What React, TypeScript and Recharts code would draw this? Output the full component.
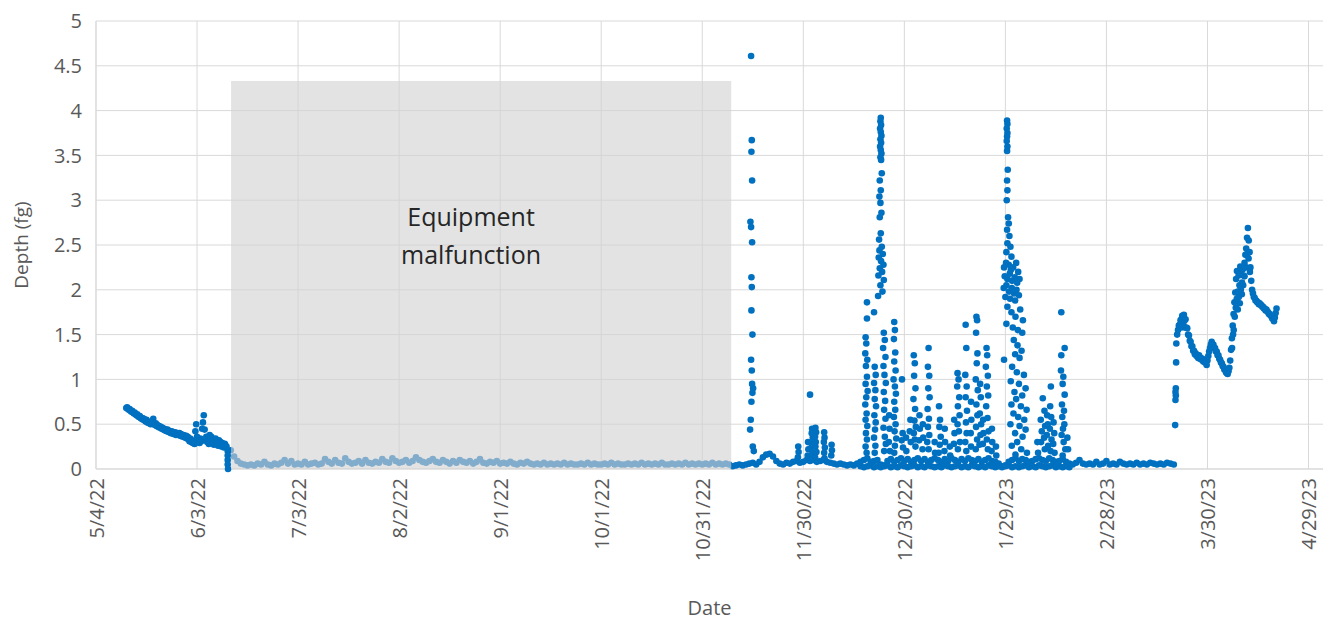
import {
  ScatterChart,
  Scatter,
  XAxis,
  YAxis,
  CartesianGrid,
  ReferenceArea,
} from 'recharts';

const FONT = '"Open Sans", Arial, sans-serif';
const BLUE = '#0070c0';

// x axis is days since 5/4/22
const xTicks = [0, 30, 60, 90, 120, 150, 180, 210, 240, 270, 300, 330, 360];
const xTickLabels = [
  '5/4/22', '6/3/22', '7/3/22', '8/2/22', '9/1/22', '10/1/22', '10/31/22',
  '11/30/22', '12/30/22', '1/29/23', '2/28/23', '3/30/23', '4/29/23',
];
const yTicks = [0, 0.5, 1, 1.5, 2, 2.5, 3, 3.5, 4, 4.5, 5];

// malfunction window (days) and box height
const outageStart = 40.1;
const outageEnd = 188.6;
const outageTop = 4.33;

// May - June 2022, every 6 h starting day 9
const springStart = 9;
const springValues = [
  0.68, 0.69, 0.67, 0.66, 0.67, 0.65, 0.64, 0.65, 0.63, 0.62,
  0.63, 0.61, 0.6, 0.61, 0.59, 0.58, 0.59, 0.57, 0.56, 0.57,
  0.55, 0.56, 0.54, 0.53, 0.55, 0.52, 0.53, 0.51, 0.52, 0.5,
  0.52, 0.51, 0.56, 0.5, 0.49, 0.51, 0.48, 0.49, 0.47, 0.48,
  0.46, 0.47, 0.45, 0.46, 0.44, 0.45, 0.43, 0.44, 0.42, 0.44,
  0.43, 0.41, 0.42, 0.4, 0.42, 0.41, 0.39, 0.4, 0.41, 0.38,
  0.4, 0.39, 0.38, 0.4, 0.37, 0.39, 0.38, 0.36, 0.38, 0.37,
  0.35, 0.37, 0.34, 0.36, 0.33, 0.31, 0.34, 0.3, 0.32, 0.29,
  0.31, 0.28, 0.42, 0.5, 0.36, 0.3, 0.33, 0.29, 0.34, 0.31,
  0.45, 0.52, 0.6, 0.44, 0.33, 0.36, 0.3, 0.34, 0.28, 0.38,
  0.32, 0.36, 0.29, 0.33, 0.27, 0.31, 0.34, 0.28, 0.3, 0.26,
  0.32, 0.28, 0.3, 0.25, 0.29, 0.27, 0.24, 0.28, 0.26, 0.25,
];

// drop at the start of the outage
const dropPoints = [
  [39.1, 0.2], [39.1, 0.15], [39.1, 0.1], [39.1, 0.05], [39.2, 0.0],
];

// daily values during the malfunction, day 40 onward
const outageFirstDay = 40;
const outageValues = [
  0.21, 0.14, 0.09, 0.06, 0.05, 0.04, 0.05, 0.04, 0.06, 0.05,
  0.08, 0.05, 0.04, 0.06, 0.05, 0.07, 0.1, 0.06, 0.09, 0.05,
  0.06, 0.05, 0.08, 0.05, 0.06, 0.07, 0.05, 0.06, 0.11, 0.08,
  0.06, 0.1, 0.07, 0.06, 0.12, 0.08, 0.06, 0.07, 0.09, 0.06,
  0.1, 0.07, 0.06, 0.08, 0.07, 0.11, 0.08, 0.07, 0.12, 0.09,
  0.07, 0.08, 0.1, 0.07, 0.09, 0.13, 0.1, 0.08, 0.07, 0.09,
  0.11, 0.08, 0.07, 0.1, 0.08, 0.06, 0.09, 0.07, 0.1, 0.08,
  0.07, 0.09, 0.06, 0.08, 0.11, 0.07, 0.06, 0.08, 0.07, 0.09,
  0.06, 0.07, 0.06, 0.08, 0.06, 0.05, 0.07, 0.06, 0.08, 0.06,
  0.05, 0.06, 0.05, 0.07, 0.05, 0.06, 0.05, 0.06, 0.05, 0.07,
  0.05, 0.06, 0.05, 0.05, 0.06, 0.05, 0.07, 0.05, 0.06, 0.05,
  0.05, 0.06, 0.05, 0.07, 0.05, 0.06, 0.05, 0.05, 0.06, 0.05,
  0.06, 0.05, 0.07, 0.05, 0.06, 0.05, 0.06, 0.05, 0.07, 0.05,
  0.05, 0.06, 0.05, 0.06, 0.05, 0.07, 0.05, 0.06, 0.05, 0.06,
  0.05, 0.06, 0.05, 0.07, 0.05, 0.06, 0.05, 0.06, 0.05,
];

// daily baseline after the sensor came back, day 189 onward
const baseFirstDay = 189;
const baseValues = [
  0.03, 0.04, 0.05, 0.04, 0.05, 0.06, 0.07, 0.05, 0.08, 0.13,
  0.16, 0.17, 0.14, 0.09, 0.06, 0.05, 0.07, 0.06, 0.08, 0.09,
  0.07, 0.08, 0.1, 0.09, 0.1, 0.08, 0.09, 0.1, 0.08, 0.07,
  0.06, 0.05, 0.06, 0.05, 0.04, 0.05, 0.04, 0.06, 0.08, 0.1,
  0.12, 0.08, 0.09, 0.1, 0.05, 0.04, 0.09, 0.11, 0.08, 0.1,
  0.12, 0.09, 0.11, 0.08, 0.1, 0.12, 0.09, 0.11, 0.08, 0.1,
  0.12, 0.1, 0.08, 0.11, 0.09, 0.12, 0.1, 0.08, 0.11, 0.09,
  0.12, 0.1, 0.09, 0.11, 0.08, 0.1, 0.12, 0.09, 0.08, 0.06,
  0.03, 0.04, 0.08, 0.1, 0.12, 0.09, 0.11, 0.1, 0.08, 0.09,
  0.11, 0.12, 0.1, 0.09, 0.12, 0.1, 0.08, 0.09, 0.11, 0.08,
  0.06, 0.05, 0.07, 0.1, 0.06, 0.05, 0.06, 0.05, 0.08, 0.05,
  0.06, 0.09, 0.05, 0.06, 0.05, 0.08, 0.06, 0.05, 0.06, 0.05,
  0.07, 0.05, 0.06, 0.05, 0.07, 0.06, 0.05, 0.06, 0.05, 0.07,
  0.06, 0.05,
];

// lower readings under the busy winter stretch, day 227 onward
const floorFirstDay = 227;
const floorValues = [
  0.03, 0.02, 0.03, 0.04, 0.02, 0.03, 0.02, 0.03, 0.04, 0.02,
  0.03, 0.02, 0.04, 0.03, 0.02, 0.03, 0.04, 0.02, 0.03, 0.02,
  0.04, 0.03, 0.02, 0.03, 0.02, 0.04, 0.03, 0.02, 0.03, 0.04,
  0.02, 0.03, 0.02, 0.04, 0.03, 0.02, 0.03, 0.02, 0.04, 0.03,
  0.02, 0.03, 0.02, 0.03, 0.04, 0.02, 0.03, 0.02, 0.03, 0.04,
  0.02, 0.03, 0.02, 0.04, 0.03, 0.02, 0.03, 0.04, 0.02, 0.03,
  0.02, 0.03, 0.02,
];

// storm events, [day, depth]
const novemberEvents = [
  [194.5, 4.61], [194.7, 3.67], [194.6, 3.54], [194.8, 3.22], [194.3, 2.76], [194.5, 2.7],
  [194.8, 2.53], [194.6, 2.14], [194.7, 2.03], [194.6, 1.77], [194.9, 1.5], [194.5, 1.22],
  [194.7, 1.1], [194.8, 0.95], [195.1, 0.9], [194.9, 0.85], [194.6, 0.75], [194.4, 0.55],
  [194.2, 0.44], [195.0, 0.25], [195.3, 0.2],
  [208.5, 0.25], [208.6, 0.19], [208.4, 0.13],
  [211.4, 0.3], [211.5, 0.22], [211.3, 0.15], [212.0, 0.83],
  [212.6, 0.45], [212.5, 0.4], [212.8, 0.35], [212.6, 0.3], [212.4, 0.24], [212.7, 0.18], [212.5, 0.12],
  [213.6, 0.46], [213.8, 0.41], [213.5, 0.36], [213.7, 0.3], [213.6, 0.25], [213.9, 0.19], [213.5, 0.13],
  [216.2, 0.41], [216.3, 0.35], [216.1, 0.3], [216.4, 0.24], [216.2, 0.18], [216.3, 0.12],
  [218.4, 0.27], [218.5, 0.21], [218.3, 0.15],
];

const decemberEvents = [
  [233.0, 3.92], [232.9, 3.88], [233.1, 3.84], [232.8, 3.8], [233.0, 3.76], [233.2, 3.72],
  [232.9, 3.68], [233.1, 3.64], [232.8, 3.6], [233.0, 3.56], [233.2, 3.52], [232.9, 3.48],
  [233.1, 3.45], [233.3, 3.3], [232.7, 3.22], [233.0, 3.11], [232.6, 3.04], [232.9, 2.97],
  [233.2, 2.86], [232.7, 2.81], [233.0, 2.63], [232.5, 2.56], [233.3, 2.48], [232.6, 2.44],
  [233.6, 2.4], [232.4, 2.36], [233.1, 2.32], [233.8, 2.28], [232.7, 2.24], [233.4, 2.2],
  [232.3, 2.16], [233.9, 2.11], [232.9, 2.05], [233.5, 1.98], [232.2, 1.93],
  [228.9, 1.86], [228.9, 1.68], [231.0, 1.75],
  [228.5, 1.47], [228.7, 1.4], [228.4, 1.29], [229.0, 1.22], [228.6, 1.15], [228.9, 1.03],
  [228.5, 0.95], [229.1, 0.87], [228.7, 0.8], [228.4, 0.72], [228.8, 0.62], [228.5, 0.55],
  [229.0, 0.48], [228.6, 0.4], [228.9, 0.33], [228.5, 0.25], [228.8, 0.18],
  [231.2, 1.14], [231.5, 1.05], [231.0, 0.96], [231.4, 0.88], [231.2, 0.78], [231.6, 0.7],
  [231.1, 0.6], [231.5, 0.52], [231.3, 0.44], [231.0, 0.35], [231.4, 0.26], [231.2, 0.18],
  [233.9, 1.52], [234.2, 1.44], [233.7, 1.35], [234.4, 1.25], [233.8, 1.15], [234.1, 1.05],
  [234.5, 0.96], [233.9, 0.86], [234.3, 0.76], [234.0, 0.66], [234.4, 0.56], [233.8, 0.46],
  [234.2, 0.36], [234.5, 0.28], [234.0, 0.2],
  [235.5, 0.6], [235.6, 0.45], [235.4, 0.3], [235.7, 0.2],
  [237.0, 1.64], [237.2, 1.55], [236.9, 1.45], [237.3, 1.3], [237.0, 1.2], [237.4, 1.1],
  [236.8, 1.0], [237.2, 0.92], [237.5, 0.84], [237.0, 0.75], [237.3, 0.66], [236.9, 0.58],
  [237.4, 0.5], [237.1, 0.42], [237.6, 0.34], [237.2, 0.26], [237.0, 0.18],
  [239.3, 1.0], [239.5, 0.4], [239.2, 0.32], [239.6, 0.24], [240.5, 0.35], [240.6, 0.2],
  [242.8, 1.27], [243.1, 1.18], [242.9, 1.04], [243.3, 0.9], [242.7, 0.78], [243.2, 0.67],
  [243.0, 0.54], [243.4, 0.47], [242.8, 0.4], [243.1, 0.33], [243.3, 0.25],
  [241.8, 0.55], [241.6, 0.42], [241.9, 0.3], [244.5, 0.6], [244.6, 0.45], [244.4, 0.32],
  [245.5, 0.5], [245.6, 0.35], [245.4, 0.22],
  [247.2, 1.35], [247.0, 1.14], [247.4, 1.04], [247.1, 0.9], [247.5, 0.8], [246.9, 0.67],
  [247.3, 0.56], [247.0, 0.47], [247.4, 0.38], [246.8, 0.3], [247.2, 0.22],
  [249.0, 0.3], [249.1, 0.18],
  [250.3, 0.7], [250.6, 0.55], [250.4, 0.47], [250.8, 0.36], [250.5, 0.27], [250.2, 0.18],
  [252.0, 0.45], [252.1, 0.3], [251.9, 0.2], [253.5, 0.25], [253.6, 0.15],
  [255.8, 1.07], [256.1, 1.0], [255.7, 0.92], [256.3, 0.8], [255.9, 0.7], [256.4, 0.6],
  [255.8, 0.5], [256.2, 0.42], [256.5, 0.3], [255.9, 0.22],
  [254.8, 0.55], [254.9, 0.4], [254.7, 0.28],
  [258.2, 1.61], [258.4, 1.35], [258.1, 1.05], [258.5, 0.92], [258.2, 0.8], [258.6, 0.65],
  [258.3, 0.52], [258.5, 0.4], [258.1, 0.3], [258.4, 0.2],
  [259.8, 0.75], [259.9, 0.55], [259.7, 0.4], [259.8, 0.25],
  [261.4, 1.7], [261.6, 1.66], [261.3, 1.52], [261.7, 1.29], [261.5, 1.18], [261.2, 1.0],
  [261.8, 0.88], [261.4, 0.72], [261.7, 0.6], [261.3, 0.47], [261.6, 0.33], [261.2, 0.22],
  [262.5, 0.95], [262.7, 0.8], [262.4, 0.62], [262.8, 0.5], [262.6, 0.38], [262.3, 0.27],
  [263.4, 0.55], [263.5, 0.4], [263.3, 0.28],
  [264.4, 1.35], [264.6, 1.27], [264.2, 1.14], [264.8, 1.04], [264.5, 0.92], [264.9, 0.82],
  [264.3, 0.7], [264.7, 0.57], [265.0, 0.42], [264.5, 0.33], [264.8, 0.22],
  [266.0, 0.45], [266.1, 0.3], [265.9, 0.2], [267.2, 0.25], [267.3, 0.15],
];

const januaryEvents = [
  [270.5, 3.89], [270.6, 3.85], [270.4, 3.8], [270.6, 3.75], [270.5, 3.71], [270.4, 3.66],
  [270.6, 3.6], [270.5, 3.55], [270.7, 3.34], [270.5, 3.22], [270.6, 3.11], [270.4, 3.0],
  [270.8, 2.81], [271.0, 2.74], [270.5, 2.67], [271.2, 2.6], [270.6, 2.52], [271.5, 2.48],
  [270.3, 2.42], [271.8, 2.37],
  [269.6, 2.25], [270.2, 2.3], [271.0, 2.28], [271.6, 2.22], [272.3, 2.25], [273.2, 2.3],
  [273.8, 2.2], [269.8, 2.15], [270.6, 2.12], [271.3, 2.18], [272.0, 2.1], [272.8, 2.14],
  [273.5, 2.08], [274.2, 2.12], [269.5, 2.02], [270.3, 2.05], [271.1, 1.98], [271.9, 2.02],
  [272.6, 1.96], [273.3, 2.0], [274.0, 1.94], [270.0, 1.92], [271.4, 1.9], [272.9, 1.88],
  [270.6, 1.81], [271.8, 1.75], [273.0, 1.7], [274.4, 1.78], [275.2, 1.66], [270.3, 1.62],
  [272.2, 1.58], [273.7, 1.55], [275.0, 1.52],
  [272.5, 1.44], [273.6, 1.38], [274.8, 1.32], [272.9, 1.28], [274.2, 1.24], [269.6, 1.22],
  [272.0, 1.14], [273.4, 1.08], [275.5, 1.05], [271.6, 0.98], [274.0, 0.95], [276.0, 0.9],
  [272.7, 0.86], [275.0, 0.82], [273.2, 0.78], [271.8, 0.72], [274.6, 0.7], [276.3, 0.66],
  [272.4, 0.62], [273.8, 0.58], [275.6, 0.55], [271.5, 0.5], [274.2, 0.48], [276.0, 0.44],
  [272.9, 0.4], [275.1, 0.36], [273.5, 0.3], [271.9, 0.26], [274.7, 0.22], [276.4, 0.18],
  [273.0, 0.16],
];

const februaryEvents = [
  [281.1, 0.79], [283.5, 0.92], [280.5, 0.55], [280.8, 0.42], [280.6, 0.3], [281.6, 0.65],
  [281.8, 0.48], [281.5, 0.35], [281.7, 0.22], [282.4, 0.6], [282.6, 0.5], [282.3, 0.38],
  [282.7, 0.26], [283.3, 0.7], [283.6, 0.58], [283.2, 0.45], [283.7, 0.33], [283.4, 0.2],
  [284.3, 0.52], [284.5, 0.4], [284.2, 0.28], [284.6, 0.18], [279.5, 0.3], [279.7, 0.18],
  [286.6, 1.75], [287.6, 1.35], [286.6, 1.27], [286.5, 1.1], [287.2, 1.03], [287.6, 0.83],
  [287.0, 0.95], [286.8, 0.72], [287.4, 0.65], [286.9, 0.58], [287.5, 0.5], [287.1, 0.45],
  [286.7, 0.38], [287.3, 0.3], [287.8, 0.22], [287.0, 0.15], [288.4, 0.35], [288.6, 0.22],
];

const marchRise = [
  [320.4, 0.49], [320.5, 0.77], [320.6, 0.82], [320.5, 0.86], [320.6, 0.9], [320.7, 1.19],
  [322.3, 1.58], [322.8, 1.62], [323.3, 1.58], [337.3, 1.35], [337.6, 1.5], [337.8, 1.55],
  [338.1, 1.7], [338.4, 1.8], [338.7, 1.9], [339.0, 1.78], [339.3, 1.92], [339.6, 1.85],
  [339.9, 2.0], [340.2, 1.95], [340.6, 2.05], [341.0, 2.15], [341.4, 2.25], [341.8, 2.4],
  [342.2, 2.35], [342.6, 2.2],
];

// spring 2023, every 6 h starting day 320.75
const lateStart = 320.75;
const lateValues = [
  1.4, 1.5, 1.55, 1.6, 1.61, 1.66, 1.67, 1.71, 1.69, 1.72,
  1.66, 1.67, 1.58, 1.57, 1.5, 1.49, 1.43, 1.42, 1.37, 1.37,
  1.32, 1.32, 1.28, 1.29, 1.26, 1.27, 1.24, 1.27, 1.23, 1.24,
  1.22, 1.23, 1.2, 1.22, 1.19, 1.2, 1.16, 1.21, 1.26, 1.31,
  1.35, 1.39, 1.42, 1.39, 1.39, 1.35, 1.35, 1.31, 1.31, 1.27,
  1.27, 1.23, 1.22, 1.19, 1.18, 1.15, 1.14, 1.11, 1.11, 1.08,
  1.07, 1.06, 1.09, 1.13, 1.21, 1.33, 1.46, 1.6, 1.73, 1.86,
  1.97, 2.12, 2.21, 1.98, 2.16, 2.05, 2.26, 2.18, 2.08, 2.23,
  2.16, 2.3, 2.39, 2.46, 2.58, 2.69, 2.55, 2.42, 2.25, 2.1,
  2.0, 1.96, 1.92, 1.91, 1.88, 1.88, 1.86, 1.86, 1.84, 1.85,
  1.83, 1.83, 1.81, 1.81, 1.79, 1.79, 1.77, 1.78, 1.76, 1.75,
  1.73, 1.73, 1.71, 1.71, 1.68, 1.67, 1.65, 1.69, 1.74, 1.79,
];

const series = (start: number, step: number, values: number[]) =>
  values.map((v, i) => ({ day: start + i * step, depth: v }));
const pairs = (list: number[][]) => list.map(([d, v]) => ({ day: d, depth: v }));

const sensorData = [
  ...series(springStart, 0.25, springValues),
  ...pairs(dropPoints),
  ...series(baseFirstDay, 1, baseValues),
  ...series(floorFirstDay, 1, floorValues),
  ...pairs(novemberEvents),
  ...pairs(decemberEvents),
  ...pairs(januaryEvents),
  ...pairs(februaryEvents),
  ...pairs(marchRise),
  ...series(lateStart, 0.25, lateValues),
];
const outageData = series(outageFirstDay, 1, outageValues);

const Dot = (props: any) => <circle cx={props.cx} cy={props.cy} r={3.3} fill={props.fill} />;

const DateTick = ({ x, y, payload }: any) => (
  <text
    transform={`translate(${x},${y + 1}) rotate(-90)`}
    textAnchor="end"
    dominantBaseline="central"
    fill="#595959"
    fontSize={20}
    fontFamily={FONT}
  >
    {xTickLabels[xTicks.indexOf(payload.value)]}
  </text>
);

const OutageLabel = ({ viewBox }: any) => (
  <text fill="#262626" fontSize={25} fontFamily={FONT} textAnchor="middle">
    <tspan x={viewBox.x + 240} y={viewBox.y + 145}>Equipment</tspan>
    <tspan x={viewBox.x + 240} y={viewBox.y + 183}>malfunction</tspan>
  </text>
);

export default function App() {
  return (
    <ScatterChart width={1318} height={615} margin={{ top: 13, right: 3, left: 0, bottom: 0 }}>
      <CartesianGrid stroke="#d9d9d9" horizontalValues={yTicks} verticalValues={xTicks} />
      <XAxis
        type="number"
        dataKey="day"
        domain={[0, 364.3]}
        ticks={xTicks}
        interval={0}
        height={154}
        axisLine={{ stroke: '#d9d9d9' }}
        tickLine={false}
        tick={<DateTick />}
        label={{
          content: ({ viewBox }: any) => (
            <text x={viewBox.x + viewBox.width / 2} y={viewBox.y + 146} textAnchor="middle" fill="#595959" fontSize={20} fontFamily={FONT}>
              Date
            </text>
          ),
        }}
      />
      <YAxis
        type="number"
        dataKey="depth"
        domain={[0, 5]}
        ticks={yTicks}
        interval={0}
        width={88}
        axisLine={{ stroke: '#d9d9d9' }}
        tickLine={false}
        tickMargin={8}
        tick={{ fill: '#595959', fontSize: 20, fontFamily: FONT }}
        label={{
          content: ({ viewBox }: any) => (
            <text
              transform={`translate(${viewBox.x + 13},${viewBox.y + viewBox.height / 2}) rotate(-90)`}
              textAnchor="middle"
              dominantBaseline="central"
              fill="#595959"
              fontSize={19}
              fontFamily={FONT}
            >
              Depth (fg)
            </text>
          ),
        }}
      />
      <Scatter data={outageData} fill={BLUE} shape={<Dot />} isAnimationActive={false} />
      <Scatter data={sensorData} fill={BLUE} shape={<Dot />} isAnimationActive={false} />
      <ReferenceArea
        x1={outageStart}
        x2={outageEnd}
        y1={0}
        y2={outageTop}
        fill="#d2d2d2"
        fillOpacity={0.62}
        stroke="none"
        zIndex={1000}
        label={<OutageLabel />}
      />
    </ScatterChart>
  );
}
